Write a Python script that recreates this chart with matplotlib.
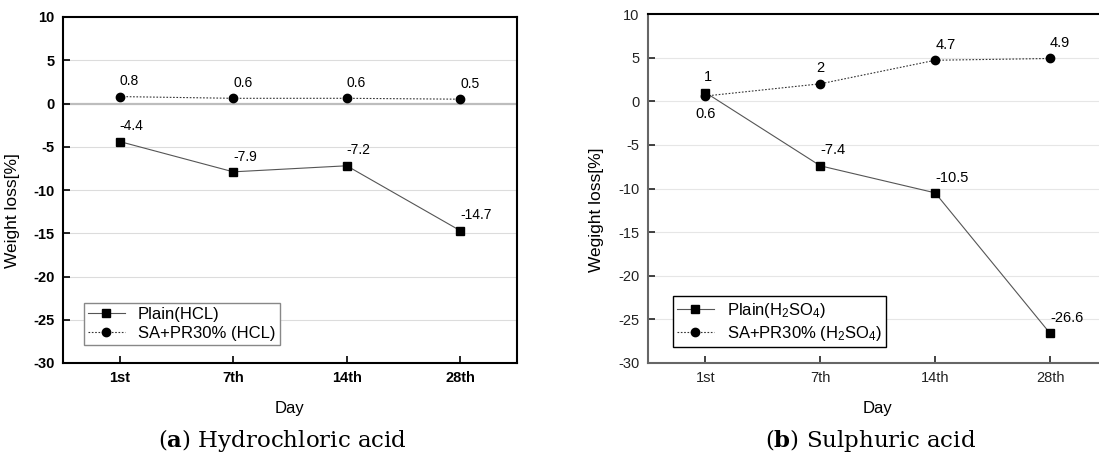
import matplotlib
matplotlib.use("Agg")
import matplotlib.pyplot as plt

plt.rcParams['font.family'] = ['Liberation Sans', 'DejaVu Sans']
plt.rcParams['mathtext.fontset'] = 'custom'
plt.rcParams['mathtext.rm'] = 'Liberation Sans'
plt.rcParams['mathtext.it'] = 'Liberation Sans:italic'
plt.rcParams['mathtext.bf'] = 'Liberation Sans:bold'

days = ['1st', '7th', '14th', '28th']
yticks = [10, 5, 0, -5, -10, -15, -20, -25, -30]

plain_hcl = [-4.4, -7.9, -7.2, -14.7]
sa_hcl = [0.8, 0.6, 0.6, 0.5]
plain_h2so4 = [1, -7.4, -10.5, -26.6]
sa_h2so4 = [0.6, 2, 4.7, 4.9]

x = list(range(len(days)))

fig = plt.figure(figsize=(10.99, 4.55), dpi=100)
ax1 = fig.add_axes([63 / 1099, 1 - 363 / 455, 454 / 1099, 346 / 455])
ax2 = fig.add_axes([648 / 1099, 1 - 363 / 455, 459.5 / 1099, 349 / 455])

# ---- (a) hydrochloric acid
for y in yticks[1:-1]:
    if y == 0:
        ax1.axhline(y, color='#bdbdbd', lw=1.6, zorder=0)
    else:
        ax1.axhline(y, color='#dcdcdc', lw=0.8, zorder=0)
ax1.plot(x, plain_hcl, color='#555555', lw=0.8, marker='s', ms=5.5,
         mfc='black', mec='black', label='Plain(HCL)')
ax1.plot(x, sa_hcl, color='#333333', lw=0.8, ls=(0, (1.5, 1.5)), marker='o', ms=6,
         mfc='black', mec='black', label='SA+PR30% (HCL)')
for xi, v in zip(x, plain_hcl):
    ax1.annotate(f'{v}', (xi, v), xytext=(0, 6), textcoords='offset points',
                 ha='left', va='bottom', fontsize=10)
for xi, v in zip(x, sa_hcl):
    ax1.annotate(f'{v}', (xi, v), xytext=(0, 6), textcoords='offset points',
                 ha='left', va='bottom', fontsize=10)

ax1.set_xlim(-0.5, 3.5)
ax1.set_ylim(-30, 10)
ax1.set_xticks(x)
ax1.set_xticklabels(days, fontweight='bold', fontsize=10.5)
ax1.set_yticks(yticks)
ax1.set_yticklabels([str(t) for t in yticks], fontweight='bold', fontsize=10.5)
ax1.tick_params(direction='in', length=5, width=1.2, pad=6)
for s in ax1.spines.values():
    s.set_linewidth(1.5)
ax1.set_xlabel('Day', fontsize=12, labelpad=11)
ax1.set_ylabel('Weight loss[%]', fontsize=12.5)
ax1.yaxis.set_label_coords(-0.095, 0.44)
leg1 = ax1.legend(loc='lower left', bbox_to_anchor=(0.046, 0.052), borderaxespad=0,
                  fontsize=12, fancybox=False, framealpha=1, edgecolor='#888888',
                  handlelength=2.2, borderpad=0.25, labelspacing=0.25)
leg1.get_frame().set_linewidth(1.0)

# ---- (b) sulphuric acid
for y in yticks[1:-1]:
    ax2.axhline(y, color='#e6e6e6', lw=0.8, zorder=0)
ax2.plot(x, plain_h2so4, color='#555555', lw=0.8, marker='s', ms=5.5,
         mfc='black', mec='black', label=r'Plain(H$_2$SO$_4$)')
ax2.plot(x, sa_h2so4, color='#333333', lw=0.8, ls=(0, (1.5, 1.5)), marker='o', ms=6,
         mfc='black', mec='black', label=r'SA+PR30% (H$_2$SO$_4$)')
for i, (xi, v) in enumerate(zip(x, plain_h2so4)):
    ax2.annotate(f'{v}', (xi, v), xytext=(0 if i else 2, 6), textcoords='offset points',
                 ha='left' if i else 'center', va='bottom', fontsize=10.5)
for i, (xi, v) in enumerate(zip(x, sa_h2so4)):
    if i == 0:
        ax2.annotate(f'{v}', (xi, v), xytext=(0, -8), textcoords='offset points',
                     ha='center', va='top', fontsize=10.5)
    else:
        ax2.annotate(f'{v}', (xi, v), xytext=(0, 6), textcoords='offset points',
                     ha='left' if i > 1 else 'center', va='bottom', fontsize=10.5)

ax2.set_xlim(-0.5, 3.5)
ax2.set_ylim(-30, 10)
ax2.set_xticks(x)
ax2.set_xticklabels(days, fontsize=10.5)
ax2.set_yticks(yticks)
ax2.set_yticklabels([str(t) for t in yticks], fontsize=10.5)
ax2.tick_params(direction='in', length=5, width=1.2, pad=6, colors='#222222')
ax2.spines['right'].set_visible(False)
ax2.spines['top'].set_linewidth(1.5)
ax2.spines['top'].set_color('black')
for k in ('left', 'bottom'):
    ax2.spines[k].set_linewidth(1.5)
    ax2.spines[k].set_color('#666666')
ax2.set_xlabel('Day', fontsize=12, labelpad=11)
ax2.set_ylabel('Wegight loss[%]', fontsize=12.5)
ax2.yaxis.set_label_coords(-0.096, 0.44)
leg2 = ax2.legend(loc='lower left', bbox_to_anchor=(0.054, 0.046), borderaxespad=0,
                  fontsize=12, fancybox=False, framealpha=1, edgecolor='black',
                  handlelength=2.2, borderpad=0.25, labelspacing=0.25)
leg2.get_frame().set_linewidth(1.0)

# ---- captions
fig.text(282 / 1099, 1 - 440 / 455, r'($\mathbf{a}$) Hydrochloric acid', fontsize=16.5,
         family='DejaVu Serif', math_fontfamily='dejavuserif', ha='center', va='center')
fig.text(871 / 1099, 1 - 440 / 455, r'($\mathbf{b}$) Sulphuric acid', fontsize=16.5,
         family='DejaVu Serif', math_fontfamily='dejavuserif', ha='center', va='center')

fig.savefig('out.png', dpi=100)
